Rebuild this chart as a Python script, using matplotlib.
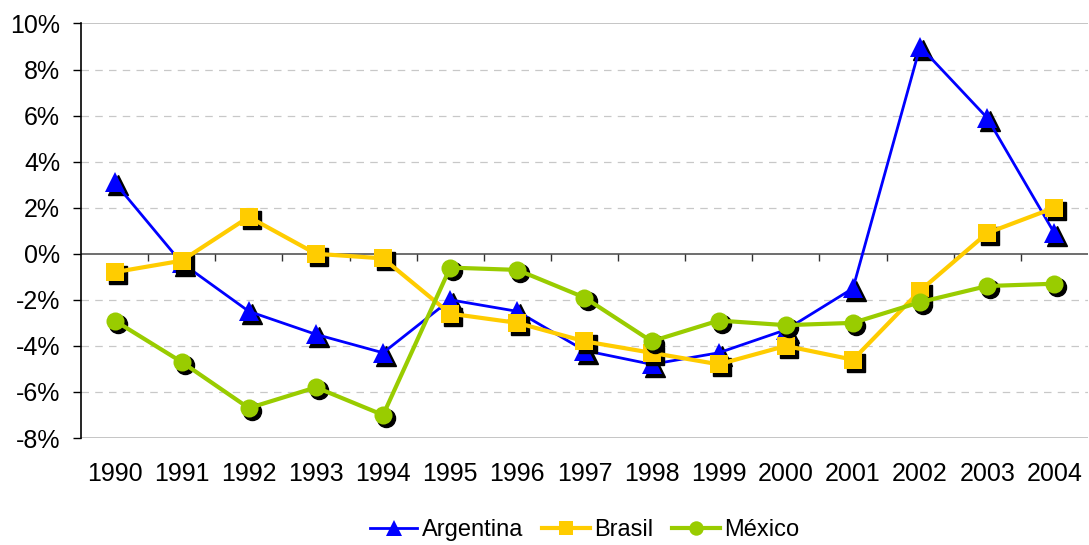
import matplotlib
matplotlib.use("Agg")
import matplotlib.pyplot as plt
import matplotlib.transforms as mtransforms
import numpy as np

plt.rcParams['font.family'] = ['Liberation Sans', 'DejaVu Sans']
plt.rcParams['axes.unicode_minus'] = False

# Datos (% anual)
anios = ['1990', '1991', '1992', '1993', '1994', '1995', '1996', '1997',
         '1998', '1999', '2000', '2001', '2002', '2003', '2004']
argentina = [3.1, -0.4, -2.5, -3.5, -4.3, -2.0, -2.5, -4.2, -4.8, -4.3, -3.3, -1.5, 9.0, 5.9, 0.9]
brasil = [-0.8, -0.3, 1.6, 0.0, -0.2, -2.6, -3.0, -3.8, -4.3, -4.8, -4.0, -4.6, -1.6, 0.9, 2.0]
mexico = [-2.9, -4.7, -6.7, -5.8, -7.0, -0.6, -0.7, -1.9, -3.8, -2.9, -3.1, -3.0, -2.1, -1.4, -1.3]

series = [
    ('Argentina', argentina, '#0000FF', '^', 15, 2.0),
    ('Brasil', brasil, '#FFCC00', 's', 12.5, 3.0),
    ('México', mexico, '#99CC00', 'o', 13, 3.0),
]

fig = plt.figure(figsize=(10.89, 5.45), dpi=100)
ax = fig.add_axes([0.0744, 0.1963, 0.9246, 0.7606])

x = np.arange(len(anios))
sombra = mtransforms.offset_copy(ax.transData, fig=fig, x=2.2, y=-2.2, units='points')

z = 3
for nombre, vals, color, marker, ms, lw in series:
    # sombra negra de los marcadores
    ax.plot(x, vals, linestyle='none', marker=marker, ms=ms, color='black',
            transform=sombra, zorder=z)
    ax.plot(x, vals, '-', marker=marker, ms=ms, color=color, lw=lw,
            markeredgewidth=0, label=nombre, zorder=z + 1)
    z += 2

ax.set_xlim(-0.5, len(anios) - 0.5)
ax.set_ylim(-8, 10)

# Rejilla
yt = np.arange(-8, 11, 2)
for v in yt:
    if v in (-8, 10):
        ax.axhline(v, color='#BBBBBB', lw=1.2, zorder=1)
    elif v == 0:
        ax.axhline(v, color='#555555', lw=1.2, zorder=2)
    else:
        ax.axhline(v, color='#C8C8C8', lw=0.9, ls=(0, (6, 5)), zorder=1)

# marcas del eje de categorías sobre la línea 0
ax.vlines(x[:-1] + 0.5, -0.3, 0, color='#333333', lw=1, zorder=2)

ax.set_yticks(yt)
ax.set_yticklabels(['{:d}%'.format(int(v)) for v in yt])
ax.set_xticks(x)
ax.set_xticklabels(anios)
ax.tick_params(axis='y', labelsize=18, length=6, width=1, color='black', pad=9)
ax.tick_params(axis='x', labelsize=18, length=0, pad=17)

for s in ['top', 'right', 'bottom']:
    ax.spines[s].set_visible(False)
ax.spines['left'].set_color('black')
ax.spines['left'].set_linewidth(1.2)

ax.legend(loc='center', bbox_to_anchor=(0.537, 0.027), bbox_transform=fig.transFigure,
          ncol=3, frameon=False, fontsize=17, handlelength=2.0, handletextpad=0.2,
          columnspacing=0.8, borderaxespad=0, markerscale=0.8)

fig.savefig('out.png', dpi=100)
